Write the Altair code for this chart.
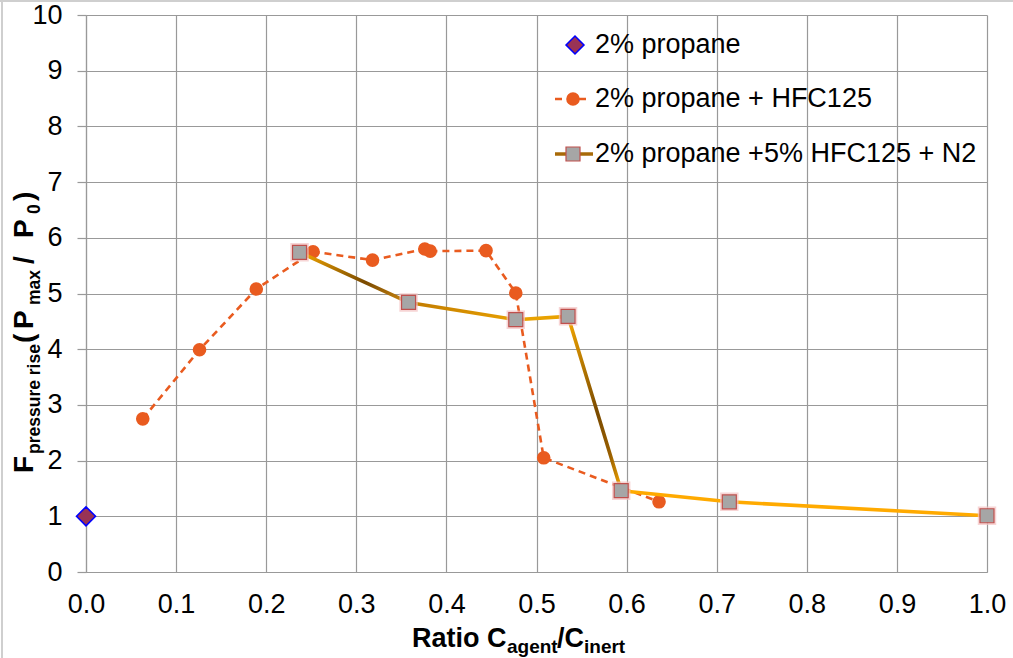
import altair as alt
import pandas as pd

# ---- data -------------------------------------------------------------
# 2% propane, no agent
propane_x = [0.0]
propane_y = [1.0]

# 2% propane + HFC125
hfc_x = [0.063, 0.126, 0.189, 0.252, 0.318, 0.376, 0.382, 0.444, 0.477, 0.508, 0.636]
hfc_y = [2.75, 3.99, 5.08, 5.75, 5.60, 5.80, 5.76, 5.77, 5.01, 2.05, 1.26]

# 2% propane + 5% HFC125 + N2
n2_x = [0.237, 0.358, 0.477, 0.535, 0.594, 0.714, 1.0]
n2_y = [5.74, 4.84, 4.53, 4.59, 1.46, 1.26, 1.01]

legend_labels = ["2% propane", "2% propane + HFC125", "2% propane +5% HFC125 + N2"]
x_tick_values = [0.0, 0.1, 0.2, 0.3, 0.4, 0.5, 0.6, 0.7, 0.8, 0.9, 1.0]
y_tick_values = [0, 1, 2, 3, 4, 5, 6, 7, 8, 9, 10]

# ---- styling ------------------------------------------------------------
FONT = "Liberation Sans"
LABEL_SIZE = 27
ORANGE = "#E95B1F"
GOLD = "#F5A800"
BROWN = "#7A4A00"
GRID = "#999999"

propane_df = pd.DataFrame({"x": propane_x, "y": propane_y})
hfc_df = pd.DataFrame({"x": hfc_x, "y": hfc_y})
n2_df = pd.DataFrame({"x": n2_x, "y": n2_y})

# consecutive point pairs of the N2 series, one row pair per segment
seg_rows = []
for i in range(len(n2_x) - 1):
    seg_rows.append({"x": n2_x[i], "y": n2_y[i], "seg": i})
    seg_rows.append({"x": n2_x[i + 1], "y": n2_y[i + 1], "seg": i})
seg_df = pd.DataFrame(seg_rows)

x_enc = alt.X(
    "x:Q",
    scale=alt.Scale(domain=[0, 1], nice=False, zero=False),
    title=None,
    axis=alt.Axis(
        values=x_tick_values, format=".1f", ticks=False, labelPadding=19,
        labelFlush=False, labelOverlap=False,
        grid=True, gridColor=GRID, gridWidth=1.2,
        domainColor=GRID, domainWidth=1.2,
        labelFont=FONT, labelFontSize=LABEL_SIZE, labelColor="#000000",
    ),
)
y_enc = alt.Y(
    "y:Q",
    scale=alt.Scale(domain=[0, 10], nice=False),
    title=None,
    axis=alt.Axis(
        values=y_tick_values, format="d", tickSize=9, tickColor=GRID, tickWidth=1.2,
        labelPadding=15, labelFlush=False, labelOverlap=False,
        grid=True, gridColor=GRID, gridWidth=1.2,
        domainColor=GRID, domainWidth=1.2,
        labelFont=FONT, labelFontSize=LABEL_SIZE, labelColor="#000000",
    ),
)

layers = []

# HFC125 series: dashed orange line with round markers
layers.append(
    alt.Chart(hfc_df).mark_line(color=ORANGE, strokeWidth=2.6, strokeDash=[7, 5])
    .encode(x=x_enc, y=y_enc)
)
layers.append(
    alt.Chart(hfc_df).mark_circle(size=185, color=ORANGE, opacity=1)
    .encode(x=x_enc, y=y_enc)
)


def seg_gradient(stops):
    return alt.Gradient(
        gradient="linear",
        stops=[alt.GradientStop(offset=o, color=c) for o, c in stops],
        x1=0, y1=0, x2=1, y2=1,
    )


# shaded look of the N2 line, segment by segment
seg_styles = [
    seg_gradient([(0, GOLD), (0.6, BROWN), (1, "#D08A10")]),
    seg_gradient([(0, "#C07A00"), (1, "#E8A000")]),
    "#E9A200",
    seg_gradient([(0, GOLD), (0.55, BROWN), (0.8, "#9A6000"), (1, GOLD)]),
    "#FFAA00",
    "#FFAA00",
]
for i, style in enumerate(seg_styles):
    layers.append(
        alt.Chart(seg_df).transform_filter(alt.datum.seg == i)
        .mark_line(stroke=style, strokeWidth=3.6, strokeCap="round")
        .encode(x=x_enc, y=y_enc)
    )

# square markers with a soft pink halo
layers.append(
    alt.Chart(n2_df).mark_square(size=270, filled=False, stroke="#F4C4C4",
                                 strokeWidth=2, opacity=0.7)
    .encode(x=x_enc, y=y_enc)
)
layers.append(
    alt.Chart(n2_df).mark_square(size=196, filled=True, fill="#A6A6A6",
                                 stroke="#C0504D", strokeWidth=1.2, opacity=1)
    .encode(x=x_enc, y=y_enc)
)

# propane only
layers.append(
    alt.Chart(propane_df).mark_point(shape="diamond", size=360, filled=True,
                                     fill="#993355", stroke="#0000FF",
                                     strokeWidth=1.6, opacity=1)
    .encode(x=x_enc, y=y_enc)
)

# ---- legend (inside the plot, upper right) ------------------------------
one = pd.DataFrame({"k": [0]})
LX_SYM = 487
LX_TXT = 509
ROW_Y = [30, 84, 139]

layers.append(
    alt.Chart(one).mark_point(shape="diamond", size=320, filled=True, fill="#993355",
                              stroke="#0000FF", strokeWidth=1.6, opacity=1)
    .encode(x=alt.value(LX_SYM + 2), y=alt.value(ROW_Y[0]))
)
layers.append(
    alt.Chart(one).mark_rule(color=ORANGE, strokeWidth=2.6, strokeDash=[7, 5])
    .encode(x=alt.value(LX_SYM - 18), x2=alt.value(LX_SYM + 18), y=alt.value(ROW_Y[1]))
)
layers.append(
    alt.Chart(one).mark_circle(size=185, color=ORANGE, opacity=1)
    .encode(x=alt.value(LX_SYM), y=alt.value(ROW_Y[1]))
)
layers.append(
    alt.Chart(one).mark_rule(color="#A86A08", strokeWidth=3.6)
    .encode(x=alt.value(LX_SYM - 18), x2=alt.value(LX_SYM + 20), y=alt.value(ROW_Y[2]))
)
layers.append(
    alt.Chart(one).mark_square(size=196, filled=True, fill="#A6A6A6",
                               stroke="#C0504D", strokeWidth=1.2, opacity=1)
    .encode(x=alt.value(LX_SYM), y=alt.value(ROW_Y[2]))
)
for label, ry in zip(legend_labels, ROW_Y):
    layers.append(
        alt.Chart(one).mark_text(text=label, font=FONT, fontSize=LABEL_SIZE,
                                 color="#000000", align="left", baseline="middle")
        .encode(x=alt.value(LX_TXT), y=alt.value(ry))
    )


# ---- axis titles with subscripts ------------------------------------------
def piece(text, x, y, size, angle=0):
    mk = dict(text=text, font=FONT, fontSize=size, fontWeight="bold",
              color="#000000", align="left", baseline="alphabetic")
    if angle:
        mk["angle"] = angle
    return alt.Chart(one).mark_text(**mk).encode(x=alt.value(x), y=alt.value(y))


# x title: Ratio C_agent / C_inert
layers += [
    piece("Ratio C", 326, 632, 27),
    piece("agent", 421, 638, 19),
    piece("/C", 471, 632, 27),
    piece("inert", 498, 638, 19),
]

# y title: F_pressure rise (P_max / P_0), reading upwards
layers += [
    piece("F", -53, 458, 28, 270),
    piece("pressure rise", -46, 439, 17.5, 270),
    piece("(", -53, 328, 28, 270),
    piece("P", -53, 314, 28, 270),
    piece("max", -46, 290, 17.5, 270),
    piece("/", -53, 249, 28, 270),
    piece("P", -53, 223, 28, 270),
    piece("0", -46, 199, 17.5, 270),
    piece(")", -53, 186, 28, 270),
]

# light outer frame edges
layers.append(
    alt.Chart(one).mark_rule(color="#CFCFCF", strokeWidth=2)
    .encode(x=alt.value(-84), y=alt.value(-15), y2=alt.value(643))
)
layers.append(
    alt.Chart(one).mark_rule(color="#CFCFCF", strokeWidth=2)
    .encode(x=alt.value(-86), x2=alt.value(927), y=alt.value(-14))
)

chart = (
    alt.layer(*layers)
    .properties(
        width=901, height=557,
        autosize=alt.AutoSizeParams(type="none"),
        padding={"left": 86, "top": 15, "right": 26, "bottom": 86},
        background="#FFFFFF",
    )
    .configure_view(strokeWidth=0)
)

chart.save("out.html", embed_options={"renderer": "svg", "actions": False})
